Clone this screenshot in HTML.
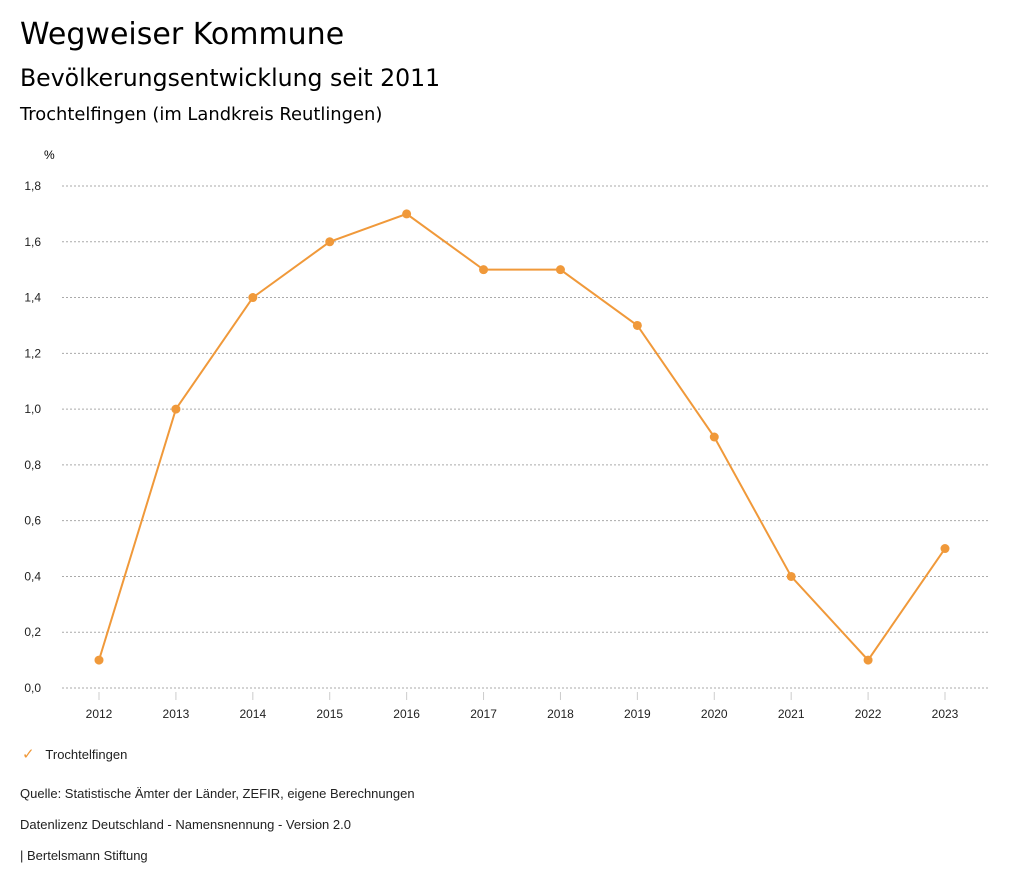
<!DOCTYPE html>
<html><head><meta charset="utf-8"><style>
body{margin:0;background:#fff;width:1024px;height:888px;overflow:hidden;font-family:"Liberation Sans",sans-serif;color:#000}
.t{position:absolute;white-space:nowrap}
.d{font-family:"DejaVu Sans",sans-serif}
</style></head><body>
<div class="t d" style="left:20px;top:17px;font-size:30px">Wegweiser Kommune</div>
<div class="t d" style="left:20px;top:64px;font-size:23.6px">Bevölkerungsentwicklung seit 2011</div>
<div class="t d" style="left:20px;top:104px;font-size:17.9px">Trochtelfingen (im Landkreis Reutlingen)</div>
<svg id="chart" width="1024" height="888" style="position:absolute;left:0;top:0">
<text x="44" y="159" font-size="12" font-family="Liberation Sans">%</text>
</svg>
<div class="t" style="left:22px;top:745px;font-size:13px;color:#222"><span style="color:#f0993a;font-size:15px">✓</span>&nbsp;&nbsp;&nbsp;Trochtelfingen</div>
<div class="t" style="left:20px;top:786px;font-size:13px;color:#222">Quelle: Statistische Ämter der Länder, ZEFIR, eigene Berechnungen</div>
<div class="t" style="left:20px;top:817px;font-size:13px;color:#222">Datenlizenz Deutschland - Namensnennung - Version 2.0</div>
<div class="t" style="left:20px;top:848px;font-size:13px;color:#222">| Bertelsmann Stiftung</div>
<script>
const years=[2012,2013,2014,2015,2016,2017,2018,2019,2020,2021,2022,2023];
const values=[0.1,1.0,1.4,1.6,1.7,1.5,1.5,1.3,0.9,0.4,0.1,0.5];
const yTicks=[0,0.2,0.4,0.6,0.8,1.0,1.2,1.4,1.6,1.8];
const svg=document.getElementById('chart');const NS='http://www.w3.org/2000/svg';
const x=i=>99+i*(945-99)/(years.length-1);
const y=v=>688-v*(688-186)/1.8;
function mk(t,a){const e=document.createElementNS(NS,t);for(const k in a)e.setAttribute(k,a[k]);svg.appendChild(e);return e;}
yTicks.forEach(v=>{
 const g=mk('line',{x1:62,x2:990,y1:y(v),y2:y(v),stroke:'#aaa','stroke-dasharray':'2,2'});
 
 
 const t=mk('text',{x:41,y:y(v)+4,'text-anchor':'end','font-size':12,'font-family':'Liberation Sans',fill:'#222'});
 t.textContent=v.toFixed(1).replace('.',',');
 
 
});
years.forEach((yr,i)=>{
 const l=mk('line',{x1:x(i),x2:x(i),y1:692,y2:700,stroke:'#ccc'});
 
 
 const t=mk('text',{x:x(i),y:718,'text-anchor':'middle','font-size':12,'font-family':'Liberation Sans',fill:'#222'});
 t.textContent=yr;
 
 
});
const p=mk('polyline',{points:values.map((v,i)=>x(i)+','+y(v)).join(' '),fill:'none',stroke:'#f0993a','stroke-width':2});


values.forEach((v,i)=>{
 const c=mk('circle',{cx:x(i),cy:y(v),r:4.5,fill:'#f0993a'});
 
 
});
</script>
</body></html>
